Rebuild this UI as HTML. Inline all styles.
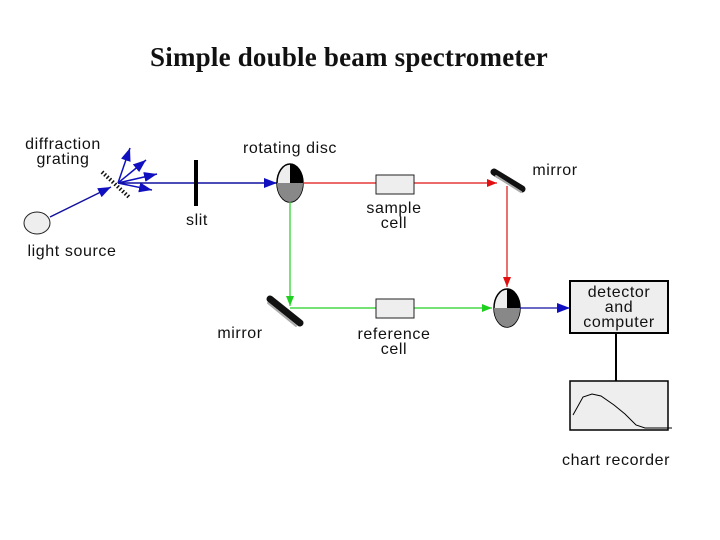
<!DOCTYPE html>
<html><head><style>
body{margin:0;background:#fff}
svg{display:block}
text{font-family:"Liberation Sans",sans-serif;font-size:16px;fill:#111;letter-spacing:0.6px}
</style></head><body>
<svg width="720" height="540" viewBox="0 0 720 540">
<text x="349" y="66" text-anchor="middle" style="font-family:'Liberation Serif',serif;font-size:27px;font-weight:bold;letter-spacing:0.2px">Simple double beam spectrometer</text>
<defs>
<marker id="ab" markerWidth="13" markerHeight="10" refX="13" refY="5" orient="auto" markerUnits="userSpaceOnUse"><path d="M0,0L13,5L0,10z" fill="#1010c0"/></marker>
<marker id="ar" markerWidth="10" markerHeight="8" refX="10" refY="4" orient="auto" markerUnits="userSpaceOnUse"><path d="M0,0L10,4L0,8z" fill="#e01010"/></marker>
<marker id="ag" markerWidth="10" markerHeight="8" refX="10" refY="4" orient="auto" markerUnits="userSpaceOnUse"><path d="M0,0L10,4L0,8z" fill="#20d020"/></marker>
</defs>
<ellipse cx="37" cy="223" rx="13" ry="11" fill="#eee" stroke="#222"/>
<line x1="50" y1="217" x2="111" y2="187" stroke="#1010a0" stroke-width="1.5" marker-end="url(#ab)"/>
<line x1="102" y1="172" x2="130" y2="198" stroke="#111" stroke-width="4" stroke-dasharray="1.5,2"/>
<g stroke="#1010c0" stroke-width="1.5">
<line x1="118" y1="183" x2="130" y2="148" marker-end="url(#ab)"/>
<line x1="118" y1="183" x2="146" y2="160" marker-end="url(#ab)"/>
<line x1="118" y1="183" x2="157" y2="174" marker-end="url(#ab)"/>
<line x1="118" y1="183" x2="152" y2="190" marker-end="url(#ab)"/>
</g>
<line x1="118" y1="183" x2="277" y2="183" stroke="#1010a0" stroke-width="1.5" marker-end="url(#ab)"/>
<line x1="196" y1="160" x2="196" y2="206" stroke="#000" stroke-width="4"/>
<g transform="translate(290,183)">
<ellipse rx="13" ry="19" fill="#eee" stroke="#000" stroke-width="1.5"/>
<path d="M0,-19A13,19 0 0 1 13,0L0,0z" fill="#000"/>
<path d="M-13,0A13,19 0 0 0 13,0z" fill="#888"/>
</g>
<line x1="303" y1="183" x2="497" y2="183" stroke="#e01010" stroke-width="1.2" marker-end="url(#ar)"/>
<rect x="376" y="175" width="38" height="19" fill="#eee" stroke="#222"/>
<line x1="494" y1="172" x2="522" y2="189" stroke="#111" stroke-width="7" stroke-linecap="round"/>
<line x1="496" y1="176" x2="521" y2="192" stroke="#aaa" stroke-width="2" stroke-linecap="round"/>
<line x1="507" y1="186" x2="507" y2="287" stroke="#e01010" stroke-width="1.2" marker-end="url(#ar)"/>
<line x1="290" y1="202" x2="290" y2="306" stroke="#20d020" stroke-width="1.2" marker-end="url(#ag)"/>
<line x1="270" y1="299" x2="300" y2="323" stroke="#111" stroke-width="7" stroke-linecap="round"/>
<line x1="268" y1="303" x2="296" y2="326" stroke="#aaa" stroke-width="2" stroke-linecap="round"/>
<line x1="290" y1="308" x2="492" y2="308" stroke="#20d020" stroke-width="1.2" marker-end="url(#ag)"/>
<rect x="376" y="299" width="38" height="19" fill="#eee" stroke="#222"/>
<g transform="translate(507,308)">
<ellipse rx="13" ry="19" fill="#eee" stroke="#000" stroke-width="1.5"/>
<path d="M0,-19A13,19 0 0 1 13,0L0,0z" fill="#000"/>
<path d="M-13,0A13,19 0 0 0 13,0z" fill="#888"/>
</g>
<line x1="520" y1="308" x2="570" y2="308" stroke="#1010a0" stroke-width="1.2" marker-end="url(#ab)"/>
<rect x="570" y="281" width="98" height="52" fill="#eee" stroke="#000" stroke-width="2"/>
<line x1="616" y1="333" x2="616" y2="381" stroke="#000" stroke-width="2"/>
<rect x="570" y="381" width="98" height="49" fill="#eee" stroke="#000" stroke-width="1.5"/>
<polyline points="573,415 583,397 592,394 601,396 614,405 625,414 636,425 645,428 672,428" fill="none" stroke="#000" stroke-width="1"/>
<text x="63" y="149" text-anchor="middle">diffraction</text>
<text x="63" y="164" text-anchor="middle">grating</text>
<text x="290" y="153" text-anchor="middle">rotating disc</text>
<text x="555" y="175" text-anchor="middle">mirror</text>
<text x="197" y="225" text-anchor="middle">slit</text>
<text x="394" y="213" text-anchor="middle">sample</text>
<text x="394" y="228" text-anchor="middle">cell</text>
<text x="72" y="256" text-anchor="middle">light source</text>
<text x="240" y="338" text-anchor="middle">mirror</text>
<text x="394" y="339" text-anchor="middle">reference</text>
<text x="394" y="354" text-anchor="middle">cell</text>
<text x="619" y="297" text-anchor="middle">detector</text>
<text x="619" y="312" text-anchor="middle">and</text>
<text x="619" y="327" text-anchor="middle">computer</text>
<text x="616" y="465" text-anchor="middle">chart recorder</text>
</svg>
</body></html>
